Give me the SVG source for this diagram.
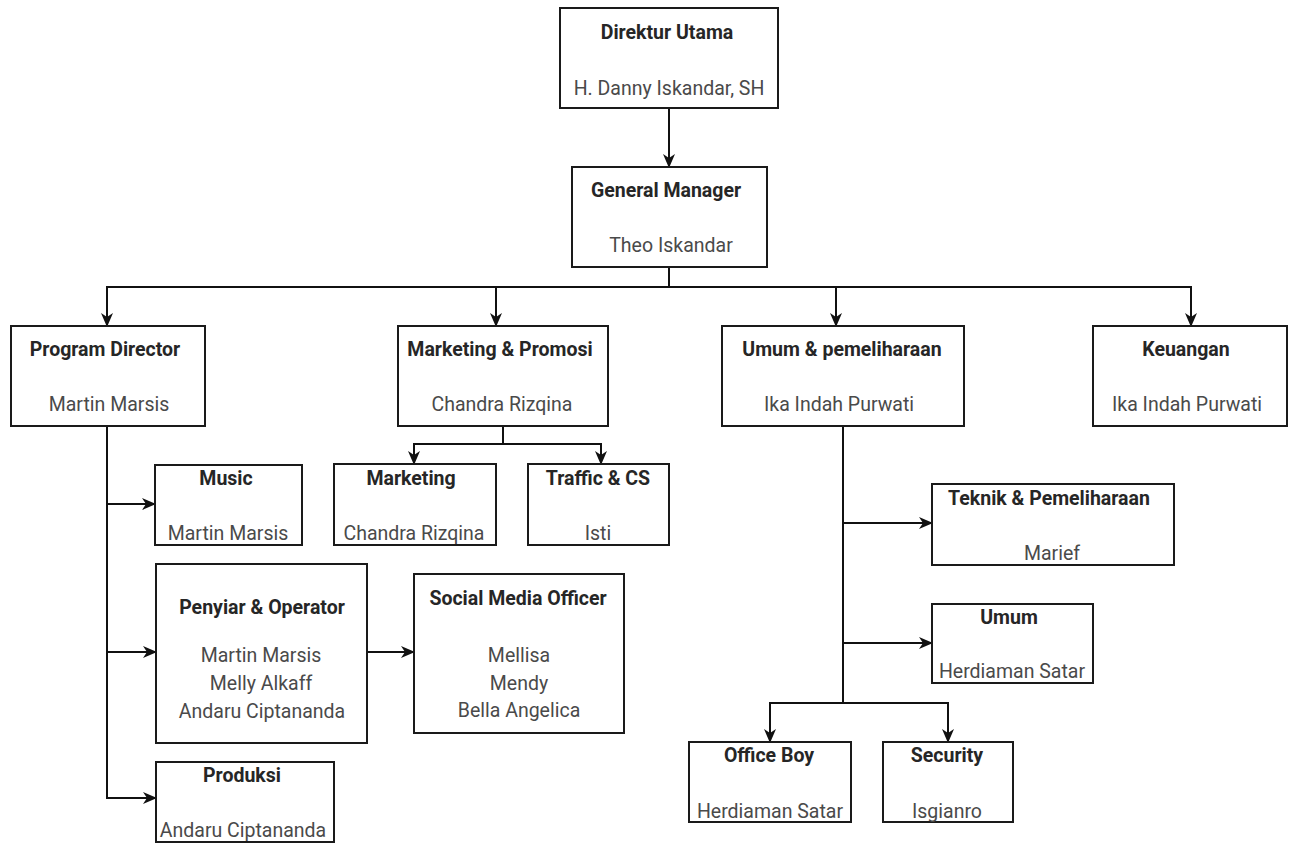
<svg xmlns="http://www.w3.org/2000/svg" width="1293" height="843" viewBox="0 0 1293 843">
<style>
.box{fill:#fff;stroke:#1a1a1a;stroke-width:2}
.t{font-family:Roboto,"Liberation Sans",sans-serif;font-size:19.5px;font-weight:bold;fill:#262626;text-anchor:middle}
.n{font-family:Roboto,"Liberation Sans",sans-serif;font-size:19.5px;fill:#4a4a4a;text-anchor:middle}
.c{fill:none;stroke:#111;stroke-width:2}
</style>
<defs>
<marker id="ah" viewBox="0 0 14 12" refX="13" refY="6" markerWidth="14" markerHeight="12" markerUnits="userSpaceOnUse" orient="auto">
<path d="M0,0 L14,6 L0,12 L4,6 Z" fill="#111"/>
</marker>
</defs>
<rect width="1293" height="843" fill="#fff"/>
<g id="connectors">
<path class="c" d="M669,108 V167" marker-end="url(#ah)"/>
<path class="c" d="M669,267 V287 H107 V326" marker-end="url(#ah)"/>
<path class="c" d="M669,287 H496 V326" marker-end="url(#ah)"/>
<path class="c" d="M669,287 H836 V326" marker-end="url(#ah)"/>
<path class="c" d="M836,287 H1191 V326" marker-end="url(#ah)"/>
<path class="c" d="M503,426 V444 H414 V464" marker-end="url(#ah)"/>
<path class="c" d="M503,444 H601 V464" marker-end="url(#ah)"/>
<path class="c" d="M107,426 V504 H155" marker-end="url(#ah)"/>
<path class="c" d="M107,504 V652 H156" marker-end="url(#ah)"/>
<path class="c" d="M107,652 V798 H156" marker-end="url(#ah)"/>
<path class="c" d="M367,652 H414" marker-end="url(#ah)"/>
<path class="c" d="M843,426 V523 H932" marker-end="url(#ah)"/>
<path class="c" d="M843,523 V643 H932" marker-end="url(#ah)"/>
<path class="c" d="M843,643 V703 H770 V742" marker-end="url(#ah)"/>
<path class="c" d="M843,703 H948 V742" marker-end="url(#ah)"/>
</g>
<g id="direktur-utama"><rect class="box" x="560" y="8" width="218" height="100"/><text class="t" x="667" y="39">Direktur Utama</text><text class="n" x="669" y="95">H. Danny Iskandar, SH</text></g>
<g id="general-manager"><rect class="box" x="572" y="167" width="195" height="100"/><text class="t" x="666" y="197">General Manager</text><text class="n" x="671" y="252">Theo Iskandar</text></g>
<g id="program-director"><rect class="box" x="11" y="326" width="194" height="100"/><text class="t" x="105" y="356">Program Director</text><text class="n" x="109" y="411">Martin Marsis</text></g>
<g id="marketing-promosi"><rect class="box" x="398" y="326" width="210" height="100"/><text class="t" x="500" y="356">Marketing &amp; Promosi</text><text class="n" x="502" y="411">Chandra Rizqina</text></g>
<g id="umum-pemeliharaan"><rect class="box" x="722" y="326" width="242" height="100"/><text class="t" x="842" y="356">Umum &amp; pemeliharaan</text><text class="n" x="839" y="411">Ika Indah Purwati</text></g>
<g id="keuangan"><rect class="box" x="1093" y="326" width="194" height="100"/><text class="t" x="1186" y="356">Keuangan</text><text class="n" x="1187" y="411">Ika Indah Purwati</text></g>
<g id="music"><rect class="box" x="155" y="465" width="147" height="80"/><text class="t" x="226" y="485">Music</text><text class="n" x="228" y="540">Martin Marsis</text></g>
<g id="marketing"><rect class="box" x="334" y="464" width="162" height="81"/><text class="t" x="411" y="485">Marketing</text><text class="n" x="414" y="540">Chandra Rizqina</text></g>
<g id="traffic-cs"><rect class="box" x="528" y="464" width="141" height="81"/><text class="t" x="598" y="485">Traffic &amp; CS</text><text class="n" x="598" y="540">Isti</text></g>
<g id="penyiar-operator"><rect class="box" x="156" y="564" width="211" height="179"/><text class="t" x="262" y="614">Penyiar &amp; Operator</text><text class="n" x="261" y="662">Martin Marsis</text><text class="n" x="261" y="690">Melly Alkaff</text><text class="n" x="262" y="718">Andaru Ciptananda</text></g>
<g id="social-media-officer"><rect class="box" x="414" y="574" width="210" height="159"/><text class="t" x="518" y="605">Social Media Officer</text><text class="n" x="519" y="662">Mellisa</text><text class="n" x="519" y="690">Mendy</text><text class="n" x="519" y="717">Bella Angelica</text></g>
<g id="produksi"><rect class="box" x="156" y="762" width="178" height="80"/><text class="t" x="242" y="782">Produksi</text><text class="n" x="243" y="837">Andaru Ciptananda</text></g>
<g id="teknik-pemeliharaan"><rect class="box" x="932" y="484" width="242" height="81"/><text class="t" x="1049" y="505">Teknik &amp; Pemeliharaan</text><text class="n" x="1052" y="560">Marief</text></g>
<g id="umum"><rect class="box" x="932" y="604" width="161" height="79"/><text class="t" x="1009" y="624">Umum</text><text class="n" x="1012" y="678">Herdiaman Satar</text></g>
<g id="office-boy"><rect class="box" x="689" y="742" width="162" height="80"/><text class="t" x="769" y="762">Office Boy</text><text class="n" x="770" y="818">Herdiaman Satar</text></g>
<g id="security"><rect class="box" x="883" y="742" width="130" height="80"/><text class="t" x="947" y="762">Security</text><text class="n" x="947" y="818">Isgianro</text></g>
</svg>
